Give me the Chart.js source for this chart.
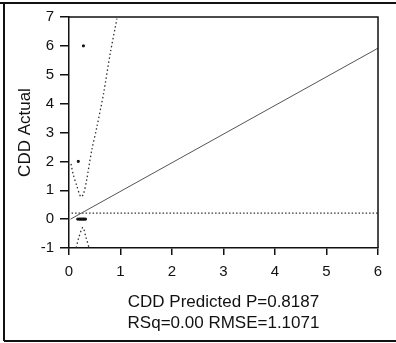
<!DOCTYPE html>
<html>
<head>
<meta charset="utf-8">
<script src="https://cdn.jsdelivr.net/npm/chart.js@4"></script>
<style>
  html, body { margin: 0; padding: 0; background: #fff; }
  #wrap { width: 396px; height: 343px; }
</style>
</head>
<body>
<div id="wrap"><canvas id="fitchart" width="396" height="343"></canvas></div>
<script>
// observed points (predicted, actual)
const pointsX = [0.28, 0.18, 0.17, 0.2, 0.22, 0.24, 0.26, 0.28, 0.3, 0.32];
const pointsY = [6, 2, 0, 0, 0, 0, 0, 0, 0, 0];

// fitted line
const fitX = [0.03, 6];
const fitY = [0, 5.92];

// mean of actual
const meanX = [0.05, 6];
const meanY = [0.21, 0.21];

// confidence curves
const upperX = [0.04, 0.08, 0.15, 0.23, 0.28, 0.34, 0.44, 0.54, 0.67, 0.8, 0.93];
const upperY = [1.91, 1.56, 1.16, 0.77, 0.87, 1.33, 2.37, 3.18, 4.34, 5.73, 6.94];
const lowerX = [0.14, 0.19, 0.27, 0.33, 0.39];
const lowerY = [-0.99, -0.64, -0.29, -0.64, -0.99];

const xTicks = [0, 1, 2, 3, 4, 5, 6];
const yTicks = [-1, 0, 1, 2, 3, 4, 5, 6, 7];

function pairs(xs, ys) {
  return xs.map((x, i) => ({ x: x, y: ys[i] }));
}

const frame = {
  id: 'frame',
  afterDraw(chart) {
    const c = chart.ctx;
    const a = chart.chartArea;
    c.save();
    c.strokeStyle = '#111';
    c.lineWidth = 1.5;
    c.beginPath();
    c.moveTo(a.left, a.top);
    c.lineTo(a.right, a.top);
    c.lineTo(a.right, a.bottom);
    c.stroke();
    c.lineWidth = 2;
    c.beginPath();
    c.moveTo(0, 3);
    c.lineTo(396, 3);
    c.moveTo(4, 3);
    c.lineTo(4, 341);
    c.moveTo(4, 341);
    c.lineTo(396, 341);
    c.stroke();
    c.restore();
  }
};

const ctx = document.getElementById('fitchart');

new Chart(ctx, {
  type: 'scatter',
  data: {
    datasets: [
      {
        data: pairs(pointsX, pointsY),
        backgroundColor: '#111',
        borderColor: '#111',
        pointRadius: 1.3,
        pointStyle: 'rect'
      },
      {
        type: 'line',
        data: pairs(fitX, fitY),
        borderColor: '#555',
        borderWidth: 1,
        pointRadius: 0,
        fill: false
      },
      {
        type: 'line',
        data: pairs(meanX, meanY),
        borderColor: '#333',
        borderWidth: 1.3,
        borderDash: [1.5, 2],
        pointRadius: 0,
        fill: false
      },
      {
        type: 'line',
        data: pairs(upperX, upperY),
        borderColor: '#333',
        borderWidth: 1.3,
        borderDash: [1.5, 2.5],
        pointRadius: 0,
        tension: 0.3,
        fill: false
      },
      {
        type: 'line',
        data: pairs(lowerX, lowerY),
        borderColor: '#333',
        borderWidth: 1.3,
        borderDash: [1.5, 2.5],
        pointRadius: 0,
        tension: 0.3,
        fill: false
      }
    ]
  },
  options: {
    responsive: false,
    animation: false,
    layout: { padding: { left: 0, top: 17, right: 18, bottom: 0 } },
    plugins: {
      legend: { display: false },
      tooltip: { enabled: false }
    },
    scales: {
      x: {
        type: 'linear',
        min: 0,
        max: 6,
        afterFit(scale) { scale.height = 95; },
        afterBuildTicks(scale) { scale.ticks = xTicks.map(v => ({ value: v })); },
        border: { display: true, color: '#111', width: 1.5 },
        grid: { display: true, drawOnChartArea: false, color: '#111', tickLength: 7, lineWidth: 1.5 },
        ticks: {
          color: '#111',
          padding: 8,
          maxRotation: 0,
          font: { family: 'Liberation Sans', size: 15 }
        },
        title: {
          display: true,
          text: ['CDD Predicted P=0.8187', 'RSq=0.00 RMSE=1.1071'],
          color: '#111',
          font: { family: 'Liberation Sans', size: 17, lineHeight: 1.25 },
          padding: { top: 0, bottom: 9 }
        }
      },
      y: {
        type: 'linear',
        min: -1,
        max: 7,
        afterFit(scale) { scale.width = 69; },
        afterBuildTicks(scale) { scale.ticks = yTicks.map(v => ({ value: v })); },
        border: { display: true, color: '#111', width: 1.5 },
        grid: { display: true, drawOnChartArea: false, color: '#111', tickLength: 9, lineWidth: 1.5 },
        ticks: {
          color: '#111',
          padding: 6,
          font: { family: 'Liberation Sans', size: 15 }
        },
        title: {
          display: true,
          text: 'CDD Actual',
          color: '#111',
          font: { family: 'Liberation Sans', size: 17 },
          padding: { top: 15, bottom: 0 }
        }
      }
    }
  },
  plugins: [frame]
});
</script>
</body>
</html>
